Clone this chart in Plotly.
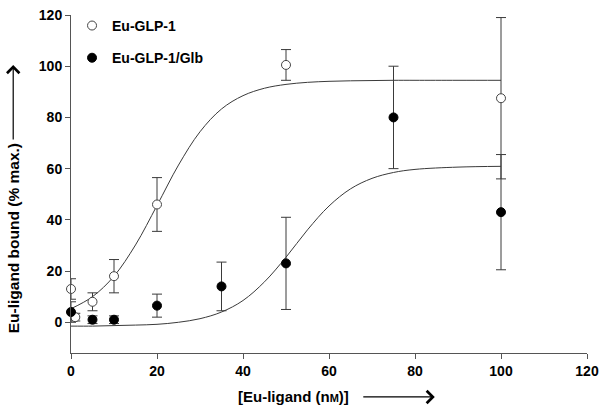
import plotly.graph_objects as go

# measured points (mean +/- error)
x_glp = [0, 1, 5, 10, 20, 50, 100]
y_glp = [13, 2, 8, 18, 46, 100.5, 87.5]
e_glp = [4, 1.5, 3.5, 6.5, 10.5, 6, 31.5]

x_glb = [0, 5, 10, 20, 35, 50, 75, 100]
y_glb = [4, 1, 1, 6.5, 14, 23, 80, 43]
e_glb = [4, 1.5, 1.5, 4.5, 9.5, 18, 20, 22.5]

# fitted curves
fit_x = [0, 5, 10, 15, 20, 25, 30, 35, 40, 45, 50, 55, 60, 65, 70, 75, 80, 90, 100]
fit_glp = [5.3, 10, 18, 30.2, 45.6, 61.4, 74.4, 83.3, 88.5, 91.4, 92.9, 93.7, 94.1, 94.3, 94.4, 94.5, 94.5, 94.5, 94.5]
fit_glb = [-1.5, -1.5, -1.3, -1.1, -0.8, 0, 1.4, 4, 8.5, 15.8, 25.4, 36.1, 45.4, 52.1, 56.2, 58.5, 59.7, 60.6, 60.9]

x_ticks = [0, 20, 40, 60, 80, 100, 120]
y_ticks = [0, 20, 40, 60, 80, 100, 120]

ink = "#3a3a3a"
bold = "Liberation Sans, Arial, sans-serif"

fig = go.Figure()

fig.add_trace(go.Scatter(x=fit_x, y=fit_glp, mode="lines", line=dict(color=ink, width=1, shape="spline"),
                         showlegend=False, hoverinfo="skip"))
fig.add_trace(go.Scatter(x=fit_x, y=fit_glb, mode="lines", line=dict(color=ink, width=1, shape="spline"),
                         showlegend=False, hoverinfo="skip"))

fig.add_trace(go.Scatter(
    x=x_glp, y=y_glp, mode="markers", name="<b>Eu-GLP-1</b>",
    error_y=dict(type="data", array=e_glp, color=ink, thickness=1, width=5),
    marker=dict(symbol="circle", size=9, color="white", line=dict(color="#444", width=1)),
    cliponaxis=False, legendgroup="a"))
fig.add_trace(go.Scatter(
    x=x_glb, y=y_glb, mode="markers", name="<b>Eu-GLP-1/Glb</b>",
    error_y=dict(type="data", array=e_glb, color=ink, thickness=1, width=5),
    marker=dict(symbol="circle", size=9, color="black", line=dict(color="black", width=1)),
    cliponaxis=False, legendgroup="b"))

axis_common = dict(showgrid=False, zeroline=False, showline=True, linecolor="#555", linewidth=1,
                   ticks="outside", ticklen=5, tickcolor="#555",
                   tickfont=dict(family=bold, size=14, color="black", weight="bold"))

fig.update_xaxes(range=[0, 120], tickvals=x_ticks, automargin=False, **axis_common)
fig.update_yaxes(range=[-12, 120], tickvals=y_ticks, automargin=False, **axis_common)

fig.update_layout(
    width=600, height=408,
    margin=dict(l=71, r=13, t=15, b=55, autoexpand=False),
    plot_bgcolor="white", paper_bgcolor="white",
    showlegend=True,
    legend=dict(x=0.002, y=1.015, xanchor="left", yanchor="top", tracegroupgap=11,
                font=dict(family=bold, size=14, color="black"), bgcolor="rgba(0,0,0,0)",
                itemwidth=30),
    annotations=[
        dict(text="<b>Eu-ligand bound (% max.)</b>", xref="paper", yref="paper", x=-0.112, y=0.34,
             xanchor="center", yanchor="middle",
             textangle=-90, showarrow=False, font=dict(family=bold, size=15.5, color="black")),
        dict(text="", xref="paper", yref="paper", x=-0.112, y=0.852, ax=0, ay=76,
             showarrow=True, arrowhead=4, arrowsize=2, arrowwidth=1.2, arrowcolor="black"),
        dict(text="<b>[Eu-ligand (n<span style='font-size:11px'>M</span>)]</b>", xref="paper", yref="paper",
             x=0.432, y=-0.130, xanchor="center", yanchor="middle",
             showarrow=False, font=dict(family=bold, size=15, color="black")),
        dict(text="", xref="paper", yref="paper", x=0.705, y=-0.130, ax=-73, ay=0,
             showarrow=True, arrowhead=4, arrowsize=2, arrowwidth=1.2, arrowcolor="black"),
    ],
)

# drop the default body margin so the figure sits at the page origin
fig.write_html("out.html", config={"displayModeBar": False},
               post_script="document.body.style.margin='0';")
